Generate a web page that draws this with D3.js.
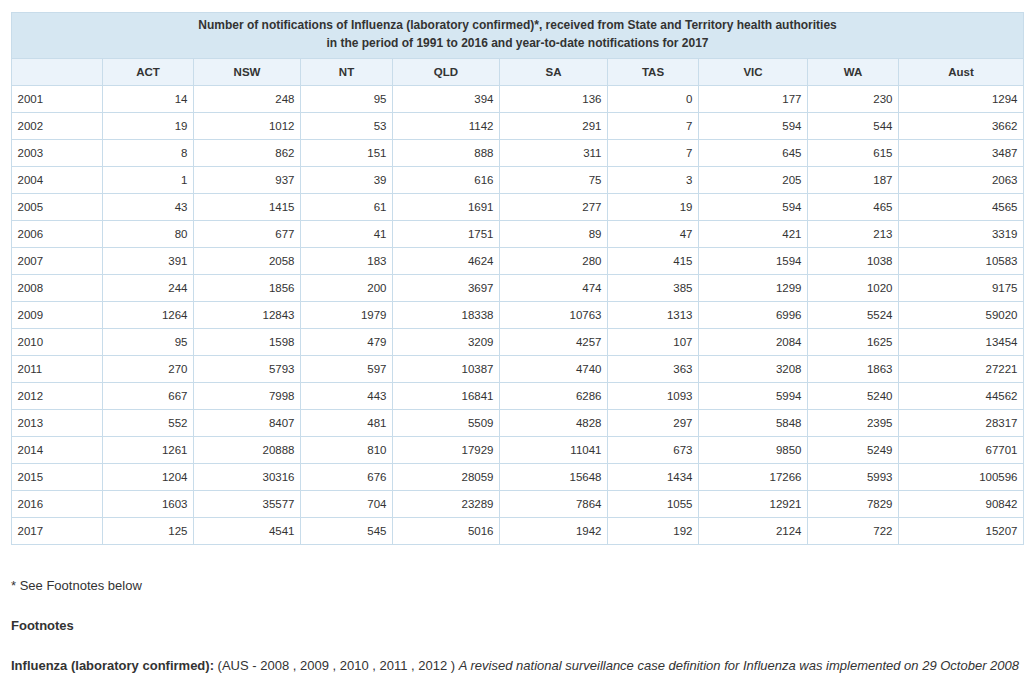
<!DOCTYPE html>
<html>
<head>
<meta charset="utf-8">
<script src="https://cdn.jsdelivr.net/npm/d3@7/dist/d3.min.js"></script>
<style>
  html, body { margin: 0; padding: 0; background: #fff; }
  svg { display: block; font-family: "Liberation Sans", Arial, sans-serif; }
</style>
</head>
<body>
<svg id="chart" width="1035" height="678"></svg>
<script>
const titleLines = [
  "Number of notifications of Influenza (laboratory confirmed)*, received from State and Territory health authorities",
  "in the period of 1991 to 2016 and year-to-date notifications for 2017"
];
const columns = ["ACT", "NSW", "NT", "QLD", "SA", "TAS", "VIC", "WA", "Aust"];
const years = ["2001","2002","2003","2004","2005","2006","2007","2008","2009","2010","2011","2012","2013","2014","2015","2016","2017"];
const ACT  = [14,19,8,1,43,80,391,244,1264,95,270,667,552,1261,1204,1603,125];
const NSW  = [248,1012,862,937,1415,677,2058,1856,12843,1598,5793,7998,8407,20888,30316,35577,4541];
const NT   = [95,53,151,39,61,41,183,200,1979,479,597,443,481,810,676,704,545];
const QLD  = [394,1142,888,616,1691,1751,4624,3697,18338,3209,10387,16841,5509,17929,28059,23289,5016];
const SA   = [136,291,311,75,277,89,280,474,10763,4257,4740,6286,4828,11041,15648,7864,1942];
const TAS  = [0,7,7,3,19,47,415,385,1313,107,363,1093,297,673,1434,1055,192];
const VIC  = [177,594,645,205,594,421,1594,1299,6996,2084,3208,5994,5848,9850,17266,12921,2124];
const WA   = [230,544,615,187,465,213,1038,1020,5524,1625,1863,5240,2395,5249,5993,7829,722];
const Aust = [1294,3662,3487,2063,4565,3319,10583,9175,59020,13454,27221,44562,28317,67701,100596,90842,15207];
const footnoteStar = "* See Footnotes below";
const footnoteHead = "Footnotes";
const fnBold = "Influenza (laboratory confirmed):";
const fnNormal = " (AUS - 2008 , 2009 , 2010 , 2011 , 2012 ) ";
const fnItalic = "A revised national surveillance case definition for Influenza was implemented on 29 October 2008";

const series = [ACT, NSW, NT, QLD, SA, TAS, VIC, WA, Aust];
const table = years.map((y, i) => ({ year: y, values: series.map(s => s[i]) }));

// layout
const left = 11.5, right = 1023.5;
const colWidths = [91, 91, 107, 92, 107, 108, 91, 109, 91, 125];
const edges = [left];
colWidths.forEach(w => edges.push(edges[edges.length - 1] + w));
const titleTop = 12.5, titleBottom = 58.5, headBottom = 85.5;
const rowH = 27;

const svg = d3.select("#chart");
const border = "#c8dcea";

const y = d3.scaleBand().domain(years).range([headBottom, headBottom + rowH * years.length]);

// title
svg.append("rect").attr("x", left).attr("y", titleTop).attr("width", right - left).attr("height", titleBottom - titleTop)
  .attr("fill", "#d6e7f2").attr("stroke", border);
svg.selectAll("text.title").data(titleLines).join("text").attr("class", "title")
  .attr("x", (left + right) / 2).attr("y", (d, i) => 29 + i * 18)
  .attr("text-anchor", "middle").attr("font-size", 12).attr("font-weight", "bold").attr("fill", "#333")
  .text(d => d);

// header row
const headerCells = ["", ...columns];
svg.selectAll("rect.head").data(headerCells).join("rect").attr("class", "head")
  .attr("x", (d, i) => edges[i]).attr("y", titleBottom).attr("width", (d, i) => colWidths[i]).attr("height", headBottom - titleBottom)
  .attr("fill", "#ebf3fa").attr("stroke", border);
svg.selectAll("text.head").data(headerCells).join("text").attr("class", "head")
  .attr("x", (d, i) => edges[i] + colWidths[i] / 2).attr("y", (titleBottom + headBottom) / 2 + 4)
  .attr("text-anchor", "middle").attr("font-size", 11.5).attr("font-weight", "bold").attr("fill", "#333")
  .text(d => d);

// body rows
const rows = svg.selectAll("g.row").data(table).join("g").attr("class", "row")
  .attr("transform", d => `translate(0,${y(d.year)})`);
rows.selectAll("rect").data(d => [d.year, ...d.values]).join("rect")
  .attr("x", (d, i) => edges[i]).attr("y", 0).attr("width", (d, i) => colWidths[i]).attr("height", y.bandwidth())
  .attr("fill", "#fff").attr("stroke", border);
rows.selectAll("text").data(d => [d.year, ...d.values]).join("text")
  .attr("x", (d, i) => i === 0 ? edges[0] + 6 : edges[i + 1] - 6)
  .attr("y", y.bandwidth() / 2 + 4)
  .attr("text-anchor", (d, i) => i === 0 ? "start" : "end")
  .attr("font-size", 11.5).attr("fill", "#333")
  .text(d => d);

// footnotes
svg.append("text").attr("x", 11).attr("y", 590).attr("font-size", 13).attr("fill", "#333").text(footnoteStar);
svg.append("text").attr("x", 11).attr("y", 630).attr("font-size", 13).attr("font-weight", "bold").attr("fill", "#333").text(footnoteHead);
const fn = svg.append("text").attr("x", 11).attr("y", 670).attr("font-size", 13).attr("fill", "#333");
fn.append("tspan").attr("font-weight", "bold").text(fnBold);
fn.append("tspan").text(fnNormal);
fn.append("tspan").attr("font-style", "italic").text(fnItalic);
</script>
</body>
</html>
